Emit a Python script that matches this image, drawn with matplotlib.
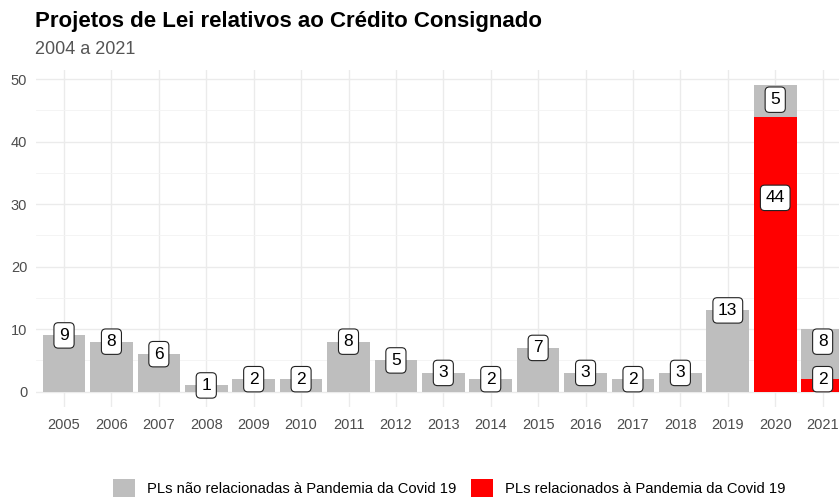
import matplotlib
matplotlib.use("Agg")
import matplotlib.pyplot as plt
from matplotlib.patches import Patch
import numpy as np

plt.rcParams["font.family"] = ["Liberation Sans", "DejaVu Sans"]

# ── Data ──────────────────────────────────────────────────────────────────
anos = [2005, 2006, 2007, 2008, 2009, 2010, 2011, 2012, 2013,
        2014, 2015, 2016, 2017, 2018, 2019, 2020, 2021]
pl_nao_covid = [9, 8, 6, 1, 2, 2, 8, 5, 3, 2, 7, 3, 2, 3, 13, 5, 8]
pl_covid = [0, 0, 0, 0, 0, 0, 0, 0, 0, 0, 0, 0, 0, 0, 0, 44, 2]

# label heights: at the segment's own value, except the tall 2020 stack
label_y_nao = list(pl_nao_covid)
label_y_nao[anos.index(2020)] = 46.7
label_y_covid = list(pl_covid)
label_y_covid[anos.index(2020)] = 31.0

C_GREY = "#BEBEBE"
C_RED = "#FF0000"
C_GRID = "#EBEBEB"
C_TICK = "#4D4D4D"

fig = plt.figure(figsize=(8.39, 5.0), dpi=100)
# panel runs slightly past the right edge, so 2021 is clipped
ax = fig.add_axes([0.0424, 0.186, 0.972, 0.674])

x = np.arange(len(anos))
ax.bar(x, pl_covid, width=0.9, color=C_RED, zorder=2)
ax.bar(x, pl_nao_covid, width=0.9, bottom=pl_covid, color=C_GREY, zorder=2)

box = dict(boxstyle="round,pad=0.3,rounding_size=0.25", fc="white",
           ec="#222222", lw=0.8)
for i in range(len(anos)):
    ax.text(x[i], label_y_nao[i], str(pl_nao_covid[i]), ha="center",
            va="center", fontsize=12.5, color="black", bbox=box, zorder=4)
    if pl_covid[i] > 0:
        ax.text(x[i], label_y_covid[i], str(pl_covid[i]), ha="center",
                va="center", fontsize=12.5, color="black", bbox=box, zorder=4)

ax.set_xlim(-0.6, len(anos) - 0.4)
ax.set_ylim(-2.45, 51.45)
ax.set_xticks(x)
ax.set_xticklabels([str(a) for a in anos])
ax.set_yticks([0, 10, 20, 30, 40, 50])
ax.set_yticks([5, 15, 25, 35, 45], minor=True)

ax.grid(which="major", color=C_GRID, lw=1.0, zorder=0)
ax.grid(which="minor", axis="y", color="#F3F3F3", lw=0.6, zorder=0)
ax.set_axisbelow(True)
for s in ax.spines.values():
    s.set_visible(False)
ax.tick_params(which="both", length=0)
ax.tick_params(axis="x", pad=8, labelsize=10.5, labelcolor=C_TICK)
ax.tick_params(axis="y", pad=6, labelsize=10.5, labelcolor=C_TICK)

fig.text(0.042, 0.956, "Projetos de Lei relativos ao Crédito Consignado",
         fontsize=16, fontweight="bold", va="center", ha="left")
fig.text(0.042, 0.9, "2004 a 2021", fontsize=13, color="#555555",
         va="center", ha="left")

handles = [Patch(fc=C_GREY, ec="none"), Patch(fc=C_RED, ec="none")]
fig.legend(handles,
           ["PLs não relacionadas à Pandemia da Covid 19",
            "PLs relacionados à Pandemia da Covid 19"],
           loc="center", bbox_to_anchor=(0.535, 0.024), ncol=2,
           frameon=False, fontsize=10.6, handlelength=1.5, handleheight=1.5,
           handletextpad=0.8, columnspacing=1.0)

fig.savefig("out.png", dpi=100)
plt.close(fig)
